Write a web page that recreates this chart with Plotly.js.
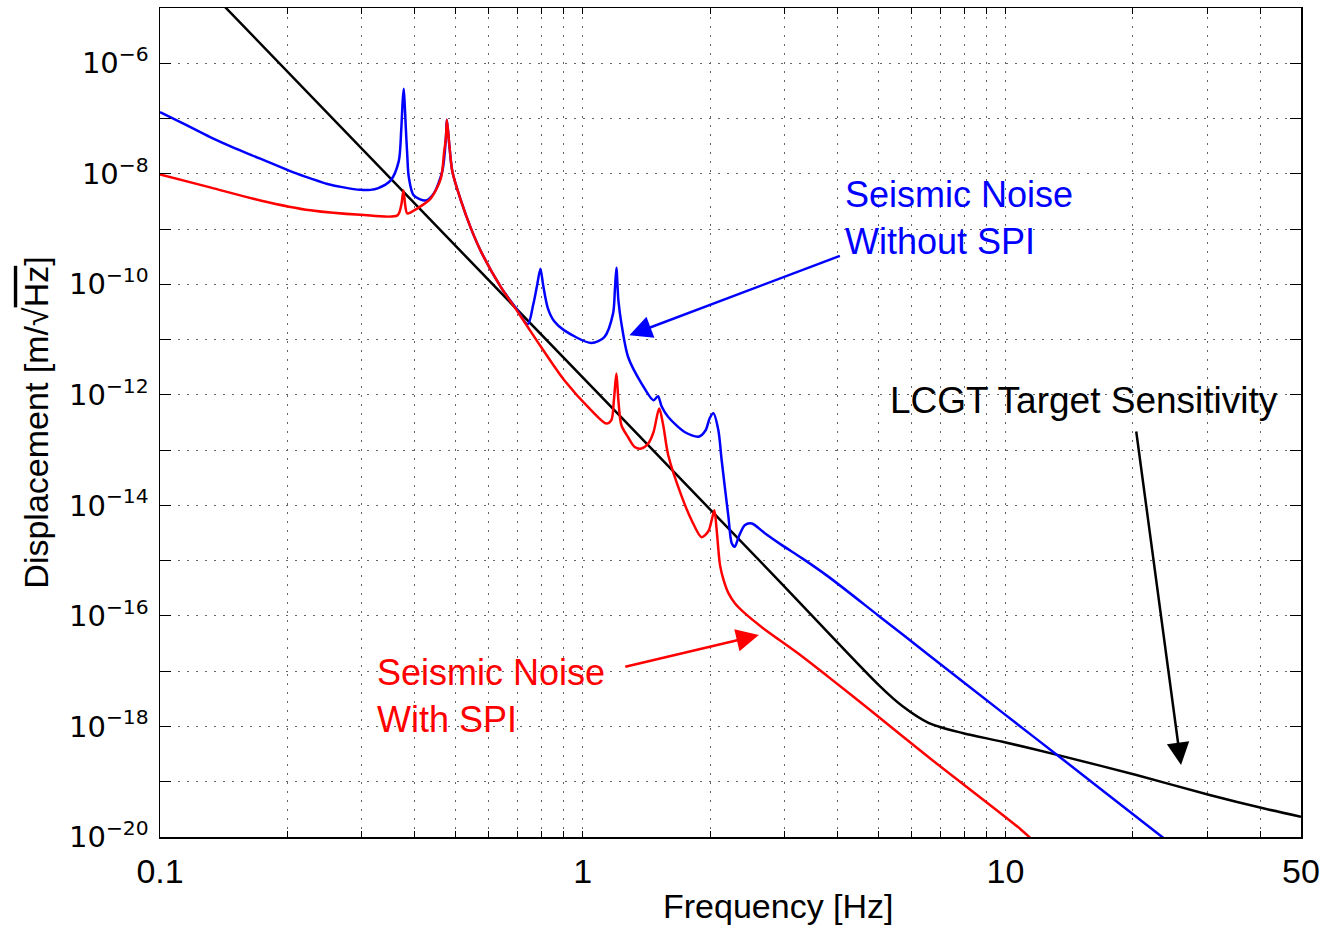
<!DOCTYPE html>
<html>
<head>
<meta charset="utf-8">
<script src="https://cdn.plot.ly/plotly-3.0.1.min.js"></script>
<style>html,body{margin:0;padding:0;background:#fff;}#chart{width:1333px;height:930px;}</style>
</head>
<body>
<div id="chart"></div>
<script>
// Frequency [Hz] and displacement [m/sqrt(Hz)]
const blueFreq = [0.1, 0.1146, 0.1314, 0.1506, 0.1727, 0.2068, 0.2270, 0.2490, 0.2718, 0.2982, 0.3148, 0.3272, 0.3513, 0.3670, 0.3720, 0.3751, 0.3772, 0.3793, 0.3814, 0.3845, 0.3877, 0.3983, 0.4253, 0.4443, 0.4658, 0.4747, 0.4771, 0.4831, 0.4915, 0.5149, 0.5439, 0.5774, 0.6408, 0.6955, 0.7413, 0.7629, 0.7799, 0.7941, 0.8061, 0.8270, 0.8560, 0.9042, 1.0476, 1.1247, 1.1796, 1.1911, 1.2011, 1.2142, 1.2343, 1.2803, 1.3764, 1.470, 1.507, 1.536, 1.593, 1.741, 1.879, 1.953, 1.996, 2.037, 2.093, 2.131, 2.211, 2.251, 2.288, 2.338, 2.416, 2.511, 2.696, 2.958, 3.299, 3.817, 5.016, 6.592, 9.84, 13.41, 23.15, 25.6];
const blueVal = [1.31e-7, 7.82e-8, 4.61e-8, 2.88e-8, 1.875e-8, 1.06e-8, 8.26e-9, 6.56e-9, 5.68e-9, 5.12e-9, 5.12e-9, 5.45e-9, 7.6e-9, 1.675e-8, 6.1e-8, 2.12e-7, 3.46e-7, 1.73e-7, 6.98e-8, 2.15e-8, 8.71e-9, 4.06e-9, 3.3e-9, 4.42e-9, 1.15e-8, 4.61e-8, 9.5e-8, 3.55e-8, 1.1e-8, 3.3e-9, 1.03e-9, 3.63e-10, 8.83e-11, 3.68e-11, 1.89e-11, 4.17e-11, 9.6e-11, 1.92e-10, 9.6e-11, 3.68e-11, 2.14e-11, 1.47e-11, 8.67e-12, 1.11e-11, 2.98e-11, 7.78e-11, 2.0e-10, 5.14e-11, 1.97e-11, 4.84e-12, 1.62e-12, 7.98e-13, 9.44e-13, 6.22e-13, 3.98e-13, 2.13e-13, 1.75e-13, 2.29e-13, 3.78e-13, 4.65e-13, 2.29e-13, 6.56e-14, 6.19e-15, 2.07e-15, 1.79e-15, 2.69e-15, 4.39e-15, 4.71e-15, 3.14e-15, 1.91e-15, 1.11e-15, 5.09e-16, 1.0e-16, 1.95e-17, 1.78e-18, 2.83e-19, 1.09e-20, 6.07e-21];

const redFreq = [0.1, 0.1314, 0.1727, 0.2270, 0.2982, 0.3644, 0.3720, 0.3765, 0.3803, 0.3845, 0.4064, 0.4371, 0.4617, 0.4699, 0.4747, 0.4771, 0.4831, 0.4915, 0.5149, 0.5439, 0.5774, 0.6408, 0.6955, 0.7413, 0.7970, 0.9042, 1.0476, 1.1370, 1.1686, 1.1848, 1.2011, 1.2142, 1.2343, 1.2803, 1.3271, 1.3764, 1.4282, 1.470, 1.5164, 1.550, 1.593, 1.713, 1.809, 1.910, 1.982, 2.018, 2.048, 2.074, 2.112, 2.154, 2.211, 2.292, 2.420, 2.652, 3.299, 3.817, 4.750, 6.592, 10.87, 11.91];
const redVal = [9.75e-9, 5.68e-9, 3.3e-9, 2.18e-9, 1.81e-9, 1.77e-9, 2.68e-9, 5.01e-9, 2.68e-9, 1.92e-9, 2.37e-9, 3.59e-9, 8.26e-9, 2.44e-8, 4.61e-8, 9.5e-8, 3.55e-8, 1.1e-8, 3.3e-9, 1.03e-9, 3.63e-10, 8.83e-11, 3.53e-11, 1.69e-11, 7.35e-12, 1.84e-12, 5.26e-13, 3.03e-13, 3.48e-13, 7.98e-13, 2.43e-12, 7.98e-13, 2.82e-13, 1.71e-13, 1.14e-13, 1.07e-13, 1.32e-13, 2.11e-13, 5.65e-13, 2.82e-13, 8.09e-14, 1.47e-14, 5.4e-15, 2.66e-15, 3.41e-15, 5.4e-15, 8.18e-15, 3.56e-15, 8.3e-16, 4.44e-16, 2.58e-16, 1.68e-16, 1.11e-16, 6.26e-17, 1.87e-17, 7.81e-18, 2.07e-18, 2.74e-19, 1.37e-20, 7.2e-21];

const blackFreq = [0.14, 0.6407, 2.851, 5.015, 5.70, 6.59, 7.91, 9.84, 13.4, 20.4, 30.4, 40.7, 50];
const blackVal = [1.2e-5, 7.0e-11, 5.1e-16, 5.6e-18, 2.34e-18, 1.15e-18, 7.6e-19, 5.3e-19, 3.0e-19, 1.32e-19, 5.75e-20, 3.3e-20, 2.33e-20];

const xTickVals = [0.1,0.2,0.3,0.4,0.5,0.6,0.7,0.8,0.9,1,2,3,4,5,6,7,8,9,10,20,30,40,50];
const xTickText = ['0.1','','','','','','','','','1','','','','','','','','','10','','','','50'];
const yExponents = [-20,-19,-18,-17,-16,-15,-14,-13,-12,-11,-10,-9,-8,-7,-6];
const yLabelExponents = [-20,-18,-16,-14,-12,-10,-8,-6];

const labels = {
  blue: 'Seismic Noise<br>Without SPI',
  red: 'Seismic Noise<br>With SPI',
  black: 'LCGT Target Sensitivity',
  xTitle: 'Frequency [Hz]',
  yTitle: 'Displacement [m/√<span style="text-decoration:overline">Hz</span>]'
};

const yTickVals = yExponents.map(e => Math.pow(10, e));
const yTickText = yExponents.map(e => yLabelExponents.includes(e) ? '10<sup>\u2212' + Math.abs(e) + '</sup>' : '');

const traces = [
  {x: blackFreq, y: blackVal, mode: 'lines', line: {color: '#000000', width: 2.5, shape: 'spline', smoothing: 0.8}, hoverinfo: 'skip'},
  {x: blueFreq, y: blueVal, mode: 'lines', line: {color: '#0000ff', width: 2.5, shape: 'spline', smoothing: 0.8}, hoverinfo: 'skip'},
  {x: redFreq, y: redVal, mode: 'lines', line: {color: '#ff0000', width: 2.5, shape: 'spline', smoothing: 0.8}, hoverinfo: 'skip'}
];

const sans = 'Liberation Sans, Arial, Helvetica, sans-serif';
const annFont = 36;

const layout = {
  width: 1333, height: 930,
  margin: {l: 160, r: 32, t: 8, b: 93},
  paper_bgcolor: '#ffffff', plot_bgcolor: '#ffffff',
  showlegend: false,
  xaxis: {
    type: 'log', range: [-1, Math.log10(50)],
    tickvals: xTickVals, ticktext: xTickText,
    ticks: 'inside', ticklen: 6, tickcolor: '#000', tickwidth: 1,
    showline: true, linecolor: '#000', linewidth: 1.5, mirror: 'ticks',
    showgrid: true, gridcolor: '#666', griddash: '2px,7px', gridwidth: 1,
    zeroline: false,
    tickfont: {family: sans, size: 34, color: '#000'},
    ticklabelstandoff: 4
  },
  yaxis: {
    type: 'log', range: [-20, -5],
    tickvals: yTickVals, ticktext: yTickText,
    ticks: 'inside', ticklen: 11, tickcolor: '#000', tickwidth: 1,
    showline: true, linecolor: '#000', linewidth: 1.5, mirror: 'ticks',
    showgrid: true, gridcolor: '#666', griddash: '2px,7px', gridwidth: 1,
    zeroline: false,
    tickfont: {family: 'DejaVu Sans, sans-serif', size: 29, color: '#000'},
    ticklabelstandoff: 4,
    title: {text: labels.yTitle, font: {family: sans, size: 34, color: '#000'}, standoff: 10}
  },
  annotations: [
    {xref: 'paper', yref: 'paper', x: 0.5425, y: -0.0832, xanchor: 'center', yanchor: 'middle', showarrow: false,
     text: labels.xTitle, font: {family: sans, size: 34, color: '#000'}},
    {xref: 'paper', yref: 'paper', x: 0.5986, y: 0.7467, xanchor: 'left', yanchor: 'middle', align: 'left', showarrow: false,
     text: labels.blue, font: {family: sans, size: annFont, color: '#0000ff'}},
    {xref: 'paper', yref: 'paper', x: 0.638, y: 0.526, xanchor: 'left', yanchor: 'middle', align: 'left', showarrow: false,
     text: labels.black, font: {family: sans, size: 37, color: '#000000'}},
    {xref: 'paper', yref: 'paper', x: 0.1884, y: 0.170, xanchor: 'left', yanchor: 'middle', align: 'left', showarrow: false,
     text: labels.red, font: {family: sans, size: annFont, color: '#ff0000'}},
    {xref: 'x', yref: 'y', x: 0.1103, y: -10.922, ax: 212, ay: -80, text: '', showarrow: true,
     arrowhead: 2, arrowsize: 1.8, arrowwidth: 2.5, arrowcolor: '#0000ff'},
    {xref: 'x', yref: 'y', x: 1.4152, y: -18.698, ax: -45, ay: -335, text: '', showarrow: true,
     arrowhead: 2, arrowsize: 1.8, arrowwidth: 2.5, arrowcolor: '#000000'},
    {xref: 'x', yref: 'y', x: 0.4164, y: -16.347, ax: -135, ay: 32, text: '', showarrow: true,
     arrowhead: 2, arrowsize: 1.8, arrowwidth: 2.5, arrowcolor: '#ff0000'}
  ]
};

Plotly.newPlot('chart', traces, layout, {staticPlot: true, displayModeBar: false});
</script>
</body>
</html>
